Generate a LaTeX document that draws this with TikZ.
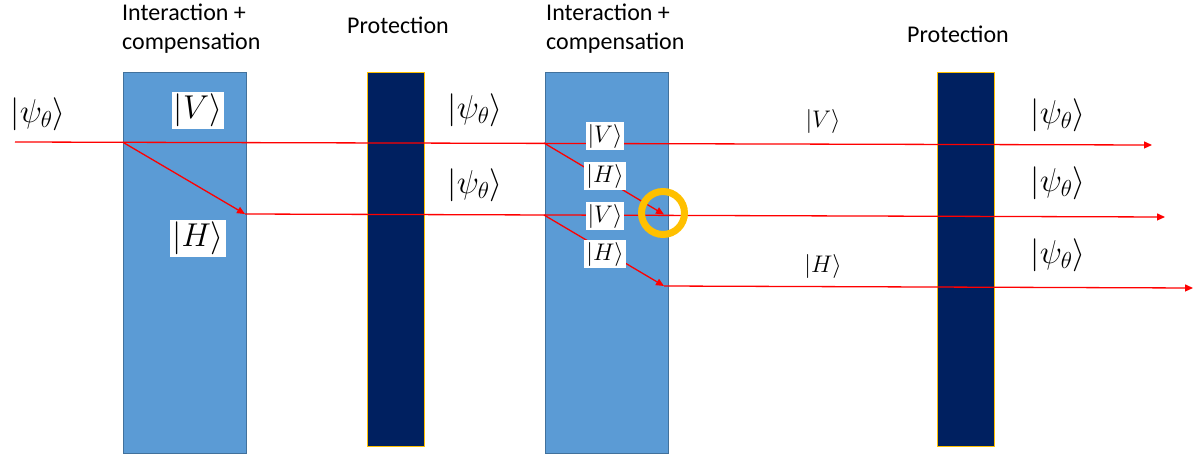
\RequirePackage{fix-cm}
\documentclass[tikz,border=0pt]{standalone}
\usepackage{fontspec}
\setmainfont{Carlito}
\usetikzlibrary{arrows.meta}
\definecolor{boxblue}{HTML}{5B9BD5}
\definecolor{boxedge}{HTML}{41719C}
\definecolor{navy}{HTML}{002060}
\definecolor{gold}{HTML}{FFC000}
\definecolor{beamred}{HTML}{FF0000}
\begin{document}
\begin{tikzpicture}[x=1pt,y=-1pt,
  interbox/.style={draw=boxedge, fill=boxblue, line width=1pt, anchor=north west, inner sep=0pt},
  protbox/.style={draw=gold, fill=navy, line width=1.3pt, anchor=north west, inner sep=0pt},
  title/.style={font=\fontsize{24}{28.5}\selectfont, inner sep=0pt, align=left},
  beam/.style={draw=beamred, line width=1.3pt},
  beamarrow/.style={beam, -{Triangle[length=8pt,width=7pt]}},
  ket/.style={font=\fontsize{33}{40}\selectfont, inner sep=0pt},
  ketbox/.style={ket, fill=white, inner sep=2pt},
  smallket/.style={font=\fontsize{24}{28}\selectfont, inner sep=0pt},
  smallketbox/.style={smallket, fill=white, inner sep=2pt},
  ring/.style={draw=gold, line width=7pt}
]
\useasboundingbox (0,0) rectangle (1194,455);

% titles
\node[title, anchor=north west] (title1) at (122,4) {Interaction +\\compensation};
\node[title, anchor=base west] (prot1) at (347,33) {Protection};
\node[title, anchor=north west] (title2) at (546,4) {Interaction +\\compensation};
\node[title, anchor=base west] (prot2) at (907,42) {Protection};

% boxes
\node[interbox, minimum width=123pt, minimum height=381pt] (ic1) at (123,72) {};
\node[protbox, minimum width=57pt, minimum height=374pt] (pr1) at (367,72) {};
\node[interbox, minimum width=123pt, minimum height=381pt] (ic2) at (545,72) {};
\node[protbox, minimum width=57pt, minimum height=374pt] (pr2) at (937,72) {};

% beam points
\coordinate (a0) at (15,142);
\coordinate (a1) at (123,142.3);
\coordinate (a2) at (544,143);
\coordinate (aEnd) at (1152,145);
\coordinate (b0) at (245,214);
\coordinate (b1) at (544,215);
\coordinate (bEnd) at (1165,217);
\coordinate (c0) at (664,214.5);
\coordinate (d0) at (664,286);
\coordinate (dEnd) at (1193,288);

% beams
\draw[beamarrow] (a0) -- (aEnd);
\draw[beamarrow] (a1) -- (b0);
\draw[beamarrow] (b0) -- (bEnd);
\draw[beamarrow] (a2) -- (c0);
\draw[beamarrow] (b1) -- (d0);
\draw[beamarrow] (d0) -- (dEnd);

% labels
\node[ket] (psiIn) at (38,114) {$\left|\psi_\theta\right\rangle$};
\node[ketbox] (v1) at (198,110) {$|V\rangle$};
\node[ketbox] (h1) at (198,238) {$|H\rangle$};
\node[ket] (psiM1) at (475,110) {$\left|\psi_\theta\right\rangle$};
\node[ket] (psiM2) at (475,185) {$\left|\psi_\theta\right\rangle$};
\node[smallketbox] (v2) at (605,136) {$|V\rangle$};
\node[smallketbox] (h2) at (605,176) {$|H\rangle$};
\node[smallketbox] (v3) at (605,216) {$|V\rangle$};
\node[smallketbox] (h3) at (605,254) {$|H\rangle$};
\node[smallket] (vOut) at (823,121) {$|V\rangle$};
\node[smallket] (hOut) at (823,266) {$|H\rangle$};
\node[ket] (psiO1) at (1058,115) {$\left|\psi_\theta\right\rangle$};
\node[ket] (psiO2) at (1058,183) {$\left|\psi_\theta\right\rangle$};
\node[ket] (psiO3) at (1058,255) {$\left|\psi_\theta\right\rangle$};

% highlight ring
\draw[ring] (663,213) circle[radius=21.5pt];
\end{tikzpicture}
\end{document}
